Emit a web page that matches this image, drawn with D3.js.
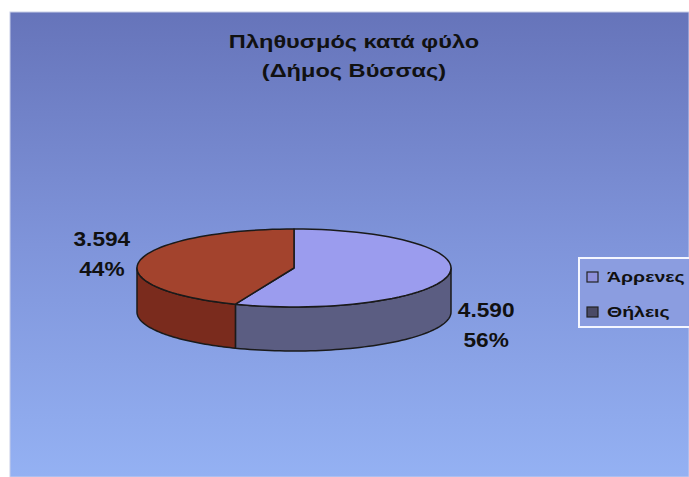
<!DOCTYPE html>
<html lang="el">
<head>
  <meta charset="UTF-8">
  <title>Πληθυσμός κατά φύλο</title>
  <style>
    body { margin: 0; overflow: hidden; background: #fff; }
    svg { display: block; }
    text { font-family: "Liberation Sans", Arial, sans-serif; font-weight: bold; fill: #111; }
  </style>
  <script src="https://d3js.org/d3.v7.min.js"></script>
</head>
<body>
  <svg></svg>
  <script>
    // data
    const categories = ["Άρρενες", "Θήλεις"];
    const values = [4590, 3594];
    const titleLines = ["Πληθυσμός κατά φύλο", "(Δήμος Βύσσας)"];

    // styles
    const topColors = ["#9b9cee", "#a3432d"];
    const sideColors = ["#5b5d82", "#7a2b1d"];
    const legendColors = ["#8e90dc", "#4a4a66"];

    const width = 689, height = 477;
    const cx = 294, cy = 268, rx = 157, ry = 39, depth = 44;

    const svg = d3.select("svg")
      .attr("width", width)
      .attr("height", height);

    const defs = svg.append("defs");
    const grad = defs.append("linearGradient")
      .attr("id", "bg").attr("x1", 0).attr("y1", 0).attr("x2", 0).attr("y2", 1);
    grad.append("stop").attr("offset", "0%").attr("stop-color", "#6674ba");
    grad.append("stop").attr("offset", "50%").attr("stop-color", "#7f94da");
    grad.append("stop").attr("offset", "100%").attr("stop-color", "#94b1f3");

    svg.append("rect")
      .attr("x", 10).attr("y", 12)
      .attr("width", width - 10).attr("height", height - 12)
      .attr("fill", "url(#bg)")
      .attr("stroke", "#c8cde8").attr("stroke-width", 1);

    // title (the source picture is stretched sideways, so the text is too)
    svg.append("g").selectAll("text")
      .data(titleLines)
      .join("text")
      .attr("transform", (d, i) => `translate(354,${48 + i * 29}) scale(1.31,1)`)
      .attr("text-anchor", "middle")
      .attr("font-size", 18)
      .text(d => d);

    // pie geometry
    const arcs = d3.pie().sort(null).startAngle(0).endAngle(2 * Math.PI)(values);
    const total = d3.sum(values);
    const pt = a => [cx + rx * Math.sin(a), cy - ry * Math.cos(a)];

    function topPath(d) {
      const steps = d3.range(0, 61).map(i => d.startAngle + (d.endAngle - d.startAngle) * i / 60);
      const pts = steps.map(pt);
      return "M" + cx + "," + cy + "L" + pts.map(p => p.join(",")).join("L") + "Z";
    }

    function sidePath(d) {
      const a0 = Math.max(d.startAngle, Math.PI / 2);
      const a1 = Math.min(d.endAngle, 3 * Math.PI / 2);
      if (a1 <= a0) return null;
      const steps = d3.range(0, 61).map(i => a0 + (a1 - a0) * i / 60);
      const upper = steps.map(pt);
      const lower = steps.slice().reverse().map(a => { const p = pt(a); return [p[0], p[1] + depth]; });
      return "M" + upper.concat(lower).map(p => p.join(",")).join("L") + "Z";
    }

    const pie = svg.append("g");
    pie.selectAll("path.side")
      .data(arcs)
      .join("path")
      .attr("class", "side")
      .attr("d", sidePath)
      .attr("fill", (d, i) => sideColors[i])
      .attr("stroke", "#1a1a1a")
      .attr("stroke-width", 1.5)
      .attr("stroke-linejoin", "round");

    pie.selectAll("path.top")
      .data(arcs)
      .join("path")
      .attr("class", "top")
      .attr("d", topPath)
      .attr("fill", (d, i) => topColors[i])
      .attr("stroke", "#1a1a1a")
      .attr("stroke-width", 1.5)
      .attr("stroke-linejoin", "round");

    // labels
    const el = d3.formatLocale({decimal: ",", thousands: ".", grouping: [3], currency: ["", "€"]});
    const fmtNum = el.format(",d");
    const fmtPct = d3.format(".0%");

    const labels = svg.append("g").selectAll("g")
      .data(arcs)
      .join("g")
      .attr("transform", d => {
        const mid = (d.startAngle + d.endAngle) / 2;
        const p = pt(mid);
        const front = Math.cos(mid) < 0;
        const x = p[0] + Math.sign(Math.sin(mid)) * 38;
        const y = p[1] + (front ? depth + 13 : 0);
        return `translate(${x},${y}) scale(1.08,1)`;
      });
    labels.append("text")
      .attr("text-anchor", "middle")
      .attr("y", -15)
      .attr("font-size", 21)
      .text(d => fmtNum(d.data));
    labels.append("text")
      .attr("text-anchor", "middle")
      .attr("y", 15)
      .attr("font-size", 21)
      .text(d => fmtPct(d.data / total));

    // legend
    const legend = svg.append("g").attr("transform", "translate(579,258)");
    legend.append("rect")
      .attr("width", 120).attr("height", 69)
      .attr("fill", "#8b9de0")
      .attr("stroke", "#f4f6ff").attr("stroke-width", 2);
    const items = legend.selectAll("g.item")
      .data(categories)
      .join("g")
      .attr("class", "item")
      .attr("transform", (d, i) => `translate(8,${14 + i * 35})`);
    items.append("rect")
      .attr("width", 11).attr("height", 10)
      .attr("fill", (d, i) => legendColors[i])
      .attr("stroke", "#222").attr("stroke-width", 1.2);
    items.append("text")
      .attr("transform", "translate(20,10) scale(1.3,1)")
      .attr("font-size", 15)
      .text(d => d);
  </script>
</body>
</html>
